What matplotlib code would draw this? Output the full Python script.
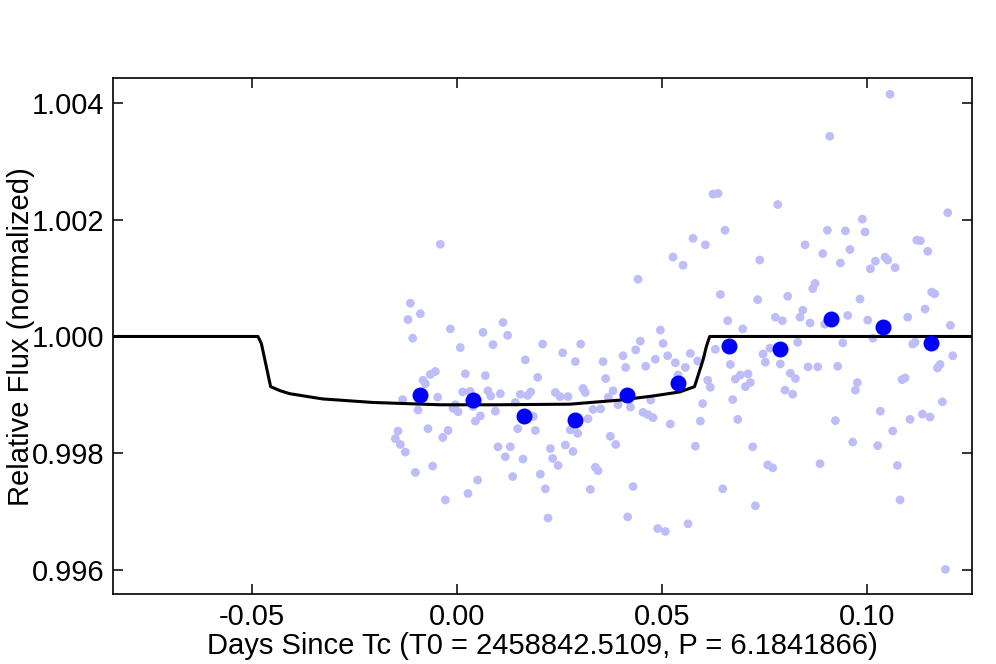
import matplotlib
matplotlib.use("Agg")
import matplotlib.pyplot as plt

plt.rcParams['font.family'] = ['Liberation Sans', 'DejaVu Sans']
plt.rcParams['axes.unicode_minus'] = False

# Unbinned photometry (time since Tc in days, relative flux)
time_raw = [
    -0.00398, -0.01130, -0.01187, -0.00886, -0.01073, -0.00154, 0.00089, 0.00642, 0.01130, 0.01244,
    0.00886, 0.01675, 0.02098, 0.02585, -0.00821, -0.00764, -0.00642, -0.00520, 0.00211, 0.00699,
    0.01976, -0.01317, -0.00463, 0.00146, 0.00325, 0.00764, 0.00829, 0.01065, 0.01553, 0.01732,
    0.01805, 0.02407, 0.02520, 0.02715, -0.00943, -0.00033, -0.00089, 0.00033, 0.00398, 0.00577,
    0.00455, 0.00943, 0.01431, 0.01870, -0.01431, -0.01496, -0.01374, -0.01252, -0.00699, -0.00211,
    -0.00341, 0.01488, 0.01919, 0.01008, 0.01309, 0.01187, 0.01618, 0.02285, 0.02341, 0.02472,
    0.02650, 0.02772, -0.01008, -0.00585, 0.00512, 0.00276, -0.00276, 0.01366, 0.02041, 0.02163,
    0.02228,
    0.06252, 0.06374, 0.06545, 0.05764, 0.06065, 0.05276, 0.05520, 0.04423, 0.06431, 0.07341,
    0.06610, 0.06976, 0.04967, 0.03024, 0.04480, 0.05033, 0.04366, 0.04057, 0.02894, 0.03569,
    0.05146, 0.05699, 0.06309, 0.04122, 0.04610, 0.04846, 0.05333, 0.05577, 0.05878, 0.03634,
    0.03081, 0.03138, 0.03813, 0.03699, 0.05398, 0.06122, 0.06187, 0.06675, 0.06797, 0.06919,
    0.07106, 0.07163, 0.07041, 0.03935, 0.04236, 0.03325, 0.03512, 0.03203, 0.04545, 0.04667,
    0.04789, 0.04732, 0.06000, 0.06732, 0.05211, 0.05943, 0.06854, 0.02951, 0.02837, 0.03748,
    0.03878, 0.05821, 0.07220, 0.03382, 0.03447, 0.03260, 0.04301, 0.06488, 0.07285, 0.04171,
    0.04902, 0.05089, 0.05642,
    0.10569, 0.09098, 0.07829, 0.11976, 0.09894, 0.09041, 0.09480, 0.09959, 0.08496, 0.11220,
    0.11309, 0.07390, 0.08927, 0.09593, 0.11488, 0.09358, 0.10211, 0.10447, 0.10512, 0.10089,
    0.10691, 0.08683, 0.08740, 0.08073, 0.09837, 0.11585, 0.11659, 0.11423, 0.07772, 0.07943,
    0.08439, 0.08374, 0.08618, 0.08976, 0.09537, 0.10024, 0.11000, 0.12041, 0.10154, 0.07642,
    0.07472, 0.07528, 0.08317, 0.09415, 0.11122, 0.11179, 0.07894, 0.08138, 0.08260, 0.08569,
    0.08805, 0.09293, 0.09772, 0.09724, 0.10862, 0.10935, 0.11724, 0.11789, 0.12098, 0.08008,
    0.08195, 0.11846, 0.10333, 0.11057, 0.11358, 0.11545, 0.09236, 0.10634, 0.09659, 0.10268,
    0.07585, 0.07707, 0.08862, 0.10748, 0.10813, 0.11919,
]
flux_raw = [
    1.00158, 1.00057, 1.00029, 1.00039, 0.99997, 1.00013, 0.99981, 1.00007, 1.00024, 1.00002,
    0.99986, 0.99960, 0.99987, 0.99972, 0.99925, 0.99919, 0.99935, 0.99940, 0.99936, 0.99933,
    0.99930, 0.99892, 0.99896, 0.99905, 0.99906, 0.99907, 0.99898, 0.99902, 0.99901, 0.99899,
    0.99905, 0.99904, 0.99897, 0.99897, 0.99874, 0.99883, 0.99877, 0.99871, 0.99880, 0.99864,
    0.99855, 0.99872, 0.99887, 0.99863, 0.99838, 0.99825, 0.99815, 0.99802, 0.99842, 0.99839,
    0.99827, 0.99842, 0.99839, 0.99811, 0.99811, 0.99794, 0.99790, 0.99808, 0.99791, 0.99779,
    0.99814, 0.99840, 0.99767, 0.99778, 0.99754, 0.99731, 0.99720, 0.99760, 0.99764, 0.99739,
    0.99689,
    1.00244, 1.00245, 1.00182, 1.00168, 1.00157, 1.00136, 1.00122, 1.00098, 1.00072, 1.00063,
    1.00027, 1.00013, 1.00011, 0.99987, 0.99992, 0.99988, 0.99977, 0.99967, 0.99957, 0.99957,
    0.99967, 0.99971, 0.99978, 0.99947, 0.99949, 0.99961, 0.99955, 0.99947, 0.99958, 0.99928,
    0.99911, 0.99904, 0.99907, 0.99896, 0.99934, 0.99925, 0.99913, 0.99952, 0.99927, 0.99934,
    0.99936, 0.99921, 0.99914, 0.99883, 0.99879, 0.99875, 0.99876, 0.99859, 0.99870, 0.99866,
    0.99861, 0.99891, 0.99885, 0.99892, 0.99850, 0.99855, 0.99858, 0.99834, 0.99803, 0.99829,
    0.99815, 0.99812, 0.99811, 0.99776, 0.99770, 0.99738, 0.99743, 0.99739, 0.99710, 0.99691,
    0.99671, 0.99666, 0.99679,
    1.00415, 1.00343, 1.00226, 1.00212, 1.00201, 1.00182, 1.00181, 1.00179, 1.00157, 1.00165,
    1.00164, 1.00131, 1.00142, 1.00149, 1.00146, 1.00126, 1.00129, 1.00136, 1.00131, 1.00116,
    1.00118, 1.00082, 1.00091, 1.00069, 1.00064, 1.00076, 1.00073, 1.00047, 1.00033, 1.00027,
    1.00045, 1.00033, 1.00023, 1.00021, 1.00036, 1.00028, 1.00033, 1.00019, 0.99997, 0.99980,
    0.99970, 0.99956, 0.99990, 0.99989, 0.99987, 0.99990, 0.99953, 0.99937, 0.99928, 0.99948,
    0.99948, 0.99949, 0.99921, 0.99908, 0.99926, 0.99929, 0.99946, 0.99952, 0.99967, 0.99908,
    0.99901, 0.99888, 0.99872, 0.99858, 0.99867, 0.99862, 0.99856, 0.99838, 0.99819, 0.99813,
    0.99780, 0.99775, 0.99782, 0.99779, 0.99720, 0.99601,
]

# Binned photometry
time_bin = [-0.00885, 0.00398, 0.01634, 0.02890, 0.04154, 0.05398, 0.06641, 0.07895, 0.09139, 0.10390, 0.11570]
flux_bin = [0.99899, 0.99891, 0.99864, 0.99857, 0.99900, 0.99920, 0.99983, 0.99979, 1.00030, 1.00017, 0.99989]

# Transit model curve
time_model = [-0.0838, -0.04846, -0.04763, -0.04537, -0.04300, -0.04073, -0.03268, -0.02049, -0.00415,
              0.01000, 0.02756, 0.03976, 0.04780, 0.05440, 0.05800, 0.06010, 0.06090, 0.06170, 0.1257]
flux_model = [1.00000, 1.00000, 0.99988, 0.99914, 0.99907, 0.99902, 0.99893, 0.99887, 0.99883,
              0.99883, 0.99884, 0.99891, 0.99898, 0.99905, 0.99914, 0.99960, 0.99983, 1.00000, 1.00000]

x_ticks = [-0.05, 0.00, 0.05, 0.10]
x_ticklabels = ['-0.05', '0.00', '0.05', '0.10']
y_ticks = [0.996, 0.998, 1.000, 1.002, 1.004]
y_ticklabels = ['0.996', '0.998', '1.000', '1.002', '1.004']

fig = plt.figure(figsize=(9.96, 6.64), dpi=100)
ax = fig.add_axes([0.1135, 0.1047, 0.8625, 0.7771])

ax.scatter(time_raw, flux_raw, s=40, color='#bdbdfa', edgecolors='none', zorder=1)
ax.plot(time_model, flux_model, color='black', lw=2.2, zorder=2)
ax.plot(time_bin, flux_bin, 'o', color='#0000ff', markersize=11.5, markeredgewidth=0, zorder=3)

ax.set_xlim(-0.0838, 0.1257)
ax.set_ylim(0.99558, 1.00442)
ax.set_xticks(x_ticks)
ax.set_xticklabels(x_ticklabels)
ax.set_yticks(y_ticks)
ax.set_yticklabels(y_ticklabels)

ax.tick_params(axis='both', which='major', direction='in', top=True, right=True,
               length=7, width=1.1, labelsize=21, pad=6)
for sp in ax.spines.values():
    sp.set_linewidth(1.2)

ax.set_xlabel('Days Since Tc (T0 = 2458842.5109, P = 6.1841866)', fontsize=21, labelpad=1)
ax.set_ylabel('Relative Flux (normalized)', fontsize=21, labelpad=-2)

fig.savefig('out.png', dpi=100)
